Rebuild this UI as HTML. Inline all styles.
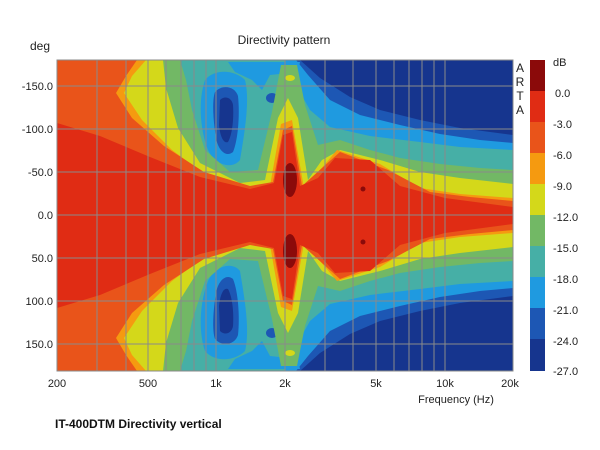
<!DOCTYPE html>
<html><head><style>
body{margin:0;background:#fff;}
svg{display:block;font-family:"Liberation Sans",Arial,sans-serif;}
</style></head><body>
<svg width="600" height="450" viewBox="0 0 600 450" xmlns="http://www.w3.org/2000/svg">
<rect width="600" height="450" fill="#fff"/>
<defs>
<clipPath id="c"><rect x="57" y="60" width="456" height="311"/></clipPath>
<g id="top" stroke-linejoin="round">
<rect x="57" y="60" width="456" height="156" fill="#16358e"/>
<polygon fill="#1d57b4" points="57,60 300,60 320,78 350,97 380,110 420,120 460,128 513,135 513,216 57,216"/>
<polygon fill="#1f9ae0" points="57,60 296,60 308,75 330,100 360,115 400,125 440,134 480,140 513,143 513,216 57,216"/>
<polygon fill="#46afa6" points="57,60 285,60 296,85 310,110 330,127 370,136 420,142 460,147 513,150 513,216 57,216"/>
<!-- 1k islands -->
<path fill="#1f9ae0" d="M205,80 C215,68 235,70 245,80 C250,100 245,130 240,160 C232,170 215,165 208,150 C200,130 198,100 205,80Z"/>
<path fill="#1f9ae0" d="M228,62 L300,62 L298,72 L270,75 L262,90 L252,80 L235,72Z"/>
<path fill="#1d57b4" d="M215,92 C222,84 235,86 238,96 C240,115 238,140 233,152 C226,158 218,150 216,138 C213,120 212,100 215,92Z"/>
<path fill="#16358e" d="M220,100 C225,95 232,98 233,105 C234,120 232,135 228,142 C223,144 220,135 219,125Z"/>
<ellipse cx="272" cy="98" rx="6" ry="5" fill="#1d57b4"/>
<polygon fill="#72b865" points="57,60 180,60 186,80 192,110 205,150 230,172 258,170 272,112 281,65 297,65 305,105 318,145 340,140 370,150 400,158 440,164 480,168 513,170 513,216 57,216"/>
<polygon fill="#d4d81a" points="57,60 163,60 166,88 178,128 200,163 240,183 265,180 278,118 288,98 298,118 308,180 322,160 340,150 380,160 420,172 460,178 513,184 513,216 57,216"/>
<ellipse cx="290" cy="78" rx="5" ry="3" fill="#d4d81a"/>
<polygon fill="#f59a10" points="57,60 146,60 132,76 124,93 142,120 172,150 210,178 250,190 270,186 281,124 292,120 304,188 320,170 337,150 380,164 420,188 460,194 513,198 513,216 57,216"/>
<polygon fill="#e9541a" points="57,60 137,60 126,76 116,93 132,118 164,146 204,172 250,186 273,182 283,130 292,126 302,186 322,168 340,152 388,170 430,192 470,197 513,201 513,216 57,216"/>
<polygon fill="#e02c14" points="57,123 100,136 150,157 200,177 250,189 274,183 283,135 292,132 300,186 318,178 335,158 370,160 400,186 445,198 513,207 513,216 57,216"/>
<ellipse cx="290" cy="180" rx="7" ry="17" fill="#8b0a0a"/>
<circle cx="363" cy="189" r="2.5" fill="#8b0a0a"/>
</g>
</defs>
<g clip-path="url(#c)">
<use href="#top"/>
<use href="#top" transform="translate(0,431) scale(1,-1)"/>
</g>
<g stroke="#8a8a8a" stroke-width="1" fill="none">
<path d="M57,86H513M57,129H513M57,172H513M57,215H513M57,258H513M57,301H513M57,344H513"/>
<path d="M97,60V371M126,60V371M148,60V371M166,60V371M181,60V371M194,60V371M206,60V371M216,60V371M285,60V371M325,60V371M353,60V371M376,60V371M394,60V371M409,60V371M422,60V371M434,60V371M445,60V371"/>
<rect x="57" y="60" width="456" height="311"/>
</g>
<g font-size="11" fill="#222" text-anchor="end">
<text x="53" y="90">-150.0</text><text x="53" y="133">-100.0</text><text x="53" y="176">-50.0</text>
<text x="53" y="219">0.0</text><text x="53" y="262">50.0</text><text x="53" y="305">100.0</text><text x="53" y="348">150.0</text>
</g>
<text x="30" y="50" font-size="12" fill="#222">deg</text>
<text x="284" y="44" font-size="12" fill="#222" text-anchor="middle">Directivity pattern</text>
<g font-size="11" fill="#222" text-anchor="middle">
<text x="57" y="387">200</text><text x="148" y="387">500</text><text x="216" y="387">1k</text><text x="285" y="387">2k</text>
<text x="376" y="387">5k</text><text x="445" y="387">10k</text><text x="510" y="387">20k</text>
</g>
<text x="456" y="403" font-size="11" fill="#222" text-anchor="middle">Frequency (Hz)</text>
<text x="55" y="428" font-size="12" font-weight="bold" fill="#111">IT-400DTM Directivity vertical</text>
<g font-size="12" fill="#222" text-anchor="middle">
<text x="520" y="72">A</text><text x="520" y="86">R</text><text x="520" y="100">T</text><text x="520" y="114">A</text>
</g>
<g>
<rect x="530" y="60" width="15" height="32" fill="#8b0a0a"/>
<rect x="530" y="91" width="15" height="32" fill="#e02c14"/>
<rect x="530" y="122" width="15" height="32" fill="#e9541a"/>
<rect x="530" y="153" width="15" height="32" fill="#f59a10"/>
<rect x="530" y="184" width="15" height="32" fill="#d4d81a"/>
<rect x="530" y="215" width="15" height="32" fill="#72b865"/>
<rect x="530" y="246" width="15" height="32" fill="#46afa6"/>
<rect x="530" y="277" width="15" height="32" fill="#1f9ae0"/>
<rect x="530" y="308" width="15" height="32" fill="#1d57b4"/>
<rect x="530" y="339" width="15" height="32" fill="#16358e"/>
</g>
<g font-size="11" fill="#222">
<text x="553" y="66">dB</text><text x="555" y="97">0.0</text><text x="553" y="128">-3.0</text><text x="553" y="159">-6.0</text>
<text x="553" y="190">-9.0</text><text x="553" y="221">-12.0</text><text x="553" y="252">-15.0</text><text x="553" y="283">-18.0</text>
<text x="553" y="314">-21.0</text><text x="553" y="345">-24.0</text><text x="553" y="375">-27.0</text>
</g>
</svg>
</body></html>
